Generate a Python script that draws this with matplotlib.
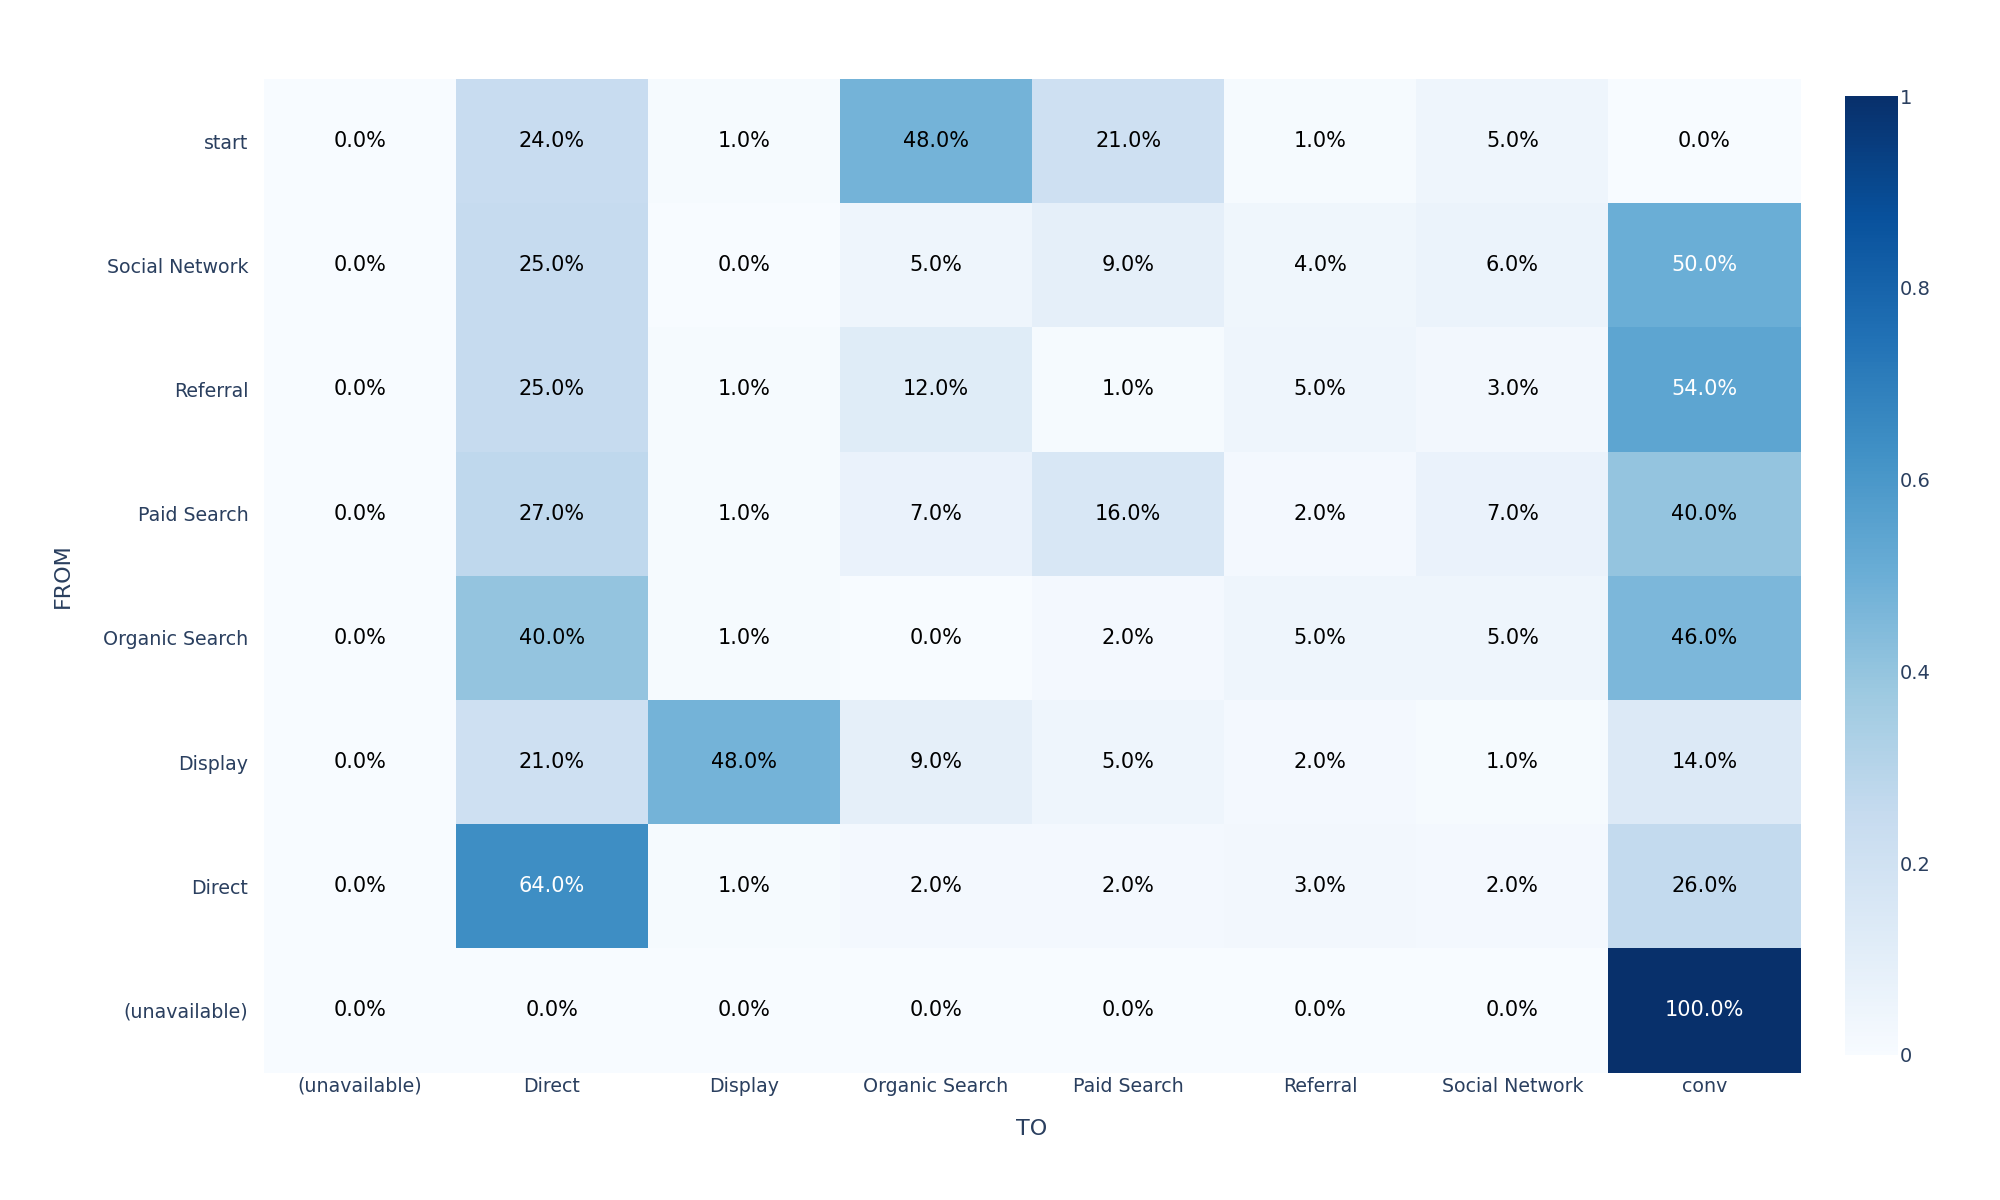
import matplotlib
matplotlib.use("Agg")
import matplotlib.pyplot as plt
import numpy as np

plt.rcParams['font.family'] = ['DejaVu Sans']

to_labels = ["(unavailable)", "Direct", "Display", "Organic Search", "Paid Search",
             "Referral", "Social Network", "conv"]
# FROM rows, listed from bottom to top
from_labels = ["(unavailable)", "Direct", "Display", "Organic Search", "Paid Search",
               "Referral", "Social Network", "start"]

row_unavailable = [0.00, 0.00, 0.00, 0.00, 0.00, 0.00, 0.00, 1.00]
row_direct      = [0.00, 0.64, 0.01, 0.02, 0.02, 0.03, 0.02, 0.26]
row_display     = [0.00, 0.21, 0.48, 0.09, 0.05, 0.02, 0.01, 0.14]
row_organic     = [0.00, 0.40, 0.01, 0.00, 0.02, 0.05, 0.05, 0.46]
row_paid        = [0.00, 0.27, 0.01, 0.07, 0.16, 0.02, 0.07, 0.40]
row_referral    = [0.00, 0.25, 0.01, 0.12, 0.01, 0.05, 0.03, 0.54]
row_social      = [0.00, 0.25, 0.00, 0.05, 0.09, 0.04, 0.06, 0.50]
row_start       = [0.00, 0.24, 0.01, 0.48, 0.21, 0.01, 0.05, 0.00]

z = np.array([row_unavailable, row_direct, row_display, row_organic,
              row_paid, row_referral, row_social, row_start])

tick_color = "#2a3f5f"

fig = plt.figure(figsize=(20, 12), dpi=100)
ax = fig.add_axes([0.1318, 0.1062, 0.7685, 0.8280])
cax = fig.add_axes([0.9223, 0.121, 0.0268, 0.799])

nx, ny = len(to_labels), len(from_labels)
mesh = ax.pcolormesh(np.arange(nx + 1) - 0.5, np.arange(ny + 1) - 0.5, z,
                     cmap="Blues", vmin=0, vmax=1, shading="flat")

for i in range(ny):
    for j in range(nx):
        v = z[i, j]
        ax.text(j, i, f"{v*100:.1f}%", ha="center", va="center",
                fontsize=15, color="white" if v > 0.49 else "black")

ax.set_xlim(-0.5, nx - 0.5)
ax.set_ylim(-0.5, ny - 0.5)
ax.set_xticks(range(nx))
ax.set_xticklabels(to_labels)
ax.set_yticks(range(ny))
ax.set_yticklabels(from_labels)
ax.tick_params(axis="both", length=0, labelsize=13.7, labelcolor=tick_color)
ax.tick_params(axis="x", pad=3)
ax.tick_params(axis="y", pad=11)
for s in ax.spines.values():
    s.set_visible(False)

ax.set_xlabel("TO", fontsize=16, color=tick_color, labelpad=17)
ax.set_ylabel("FROM", fontsize=16, color=tick_color, labelpad=22)

cb = fig.colorbar(mesh, cax=cax)
cb.outline.set_visible(False)
cb.set_ticks([0, 0.2, 0.4, 0.6, 0.8, 1])
cb.set_ticklabels(["0", "0.2", "0.4", "0.6", "0.8", "1"])
cb.ax.tick_params(length=0, labelsize=14, labelcolor=tick_color, pad=1)

fig.savefig("out.png", dpi=100, facecolor="white")
